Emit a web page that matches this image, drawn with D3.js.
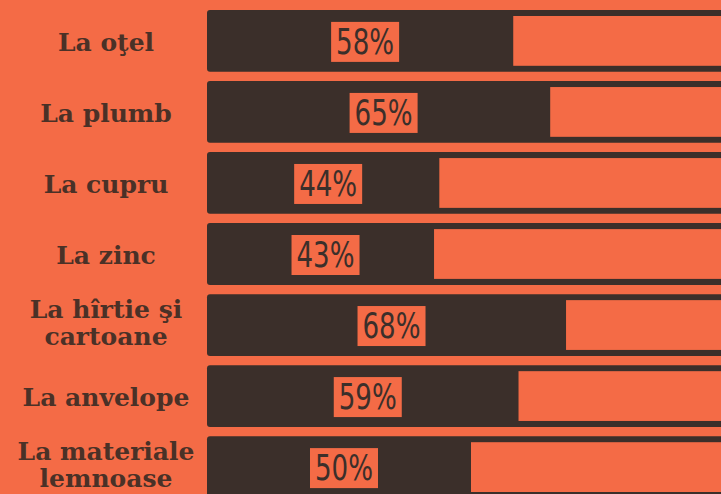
<!DOCTYPE html>
<html>
<head>
<meta charset="utf-8">
<script src="https://cdn.jsdelivr.net/npm/d3@7"></script>
<style>
  html, body { margin: 0; padding: 0; background: #f46b46; }
  svg { display: block; }
</style>
</head>
<body>
<div id="chart"></div>
<script>
// data
const categories = [
    ["La oţel"],
    ["La plumb"],
    ["La cupru"],
    ["La zinc"],
    ["La hîrtie şi", "cartoane"],
    ["La anvelope"],
    ["La materiale", "lemnoase"]
];
const values = [58, 65, 44, 43, 68, 59, 50];
const valueLabels = ["58%", "65%", "44%", "43%", "68%", "59%", "50%"];

const width = 721,
    height = 494;

const bg = "#f46b46",
    dark = "#3b2f2a",
    ink = "#4a3127";

const svg = d3.select("#chart")
    .append("svg")
    .attr("width", width)
    .attr("height", height);

svg.append("rect")
    .attr("width", width)
    .attr("height", height)
    .attr("fill", bg);

// x: percent -> pixels (100% runs past the right edge)
const x = d3.scaleLinear()
    .domain([0, 100])
    .range([207, 735]);

// y: one band per category
const y = d3.scaleBand()
    .domain(d3.range(categories.length))
    .range([10, 498])
    .paddingInner(0.13)
    .paddingOuter(0)
    .align(0);

const border = 6;

const rows = svg.append("g")
    .selectAll("g")
    .data(values.map((v, i) => ({ v: v, i: i, label: valueLabels[i], cat: categories[i] })))
    .join("g")
    .attr("transform", d => `translate(0,${y(d.i)})`);

// dark full bar
rows.append("rect")
    .attr("x", x(0))
    .attr("y", 0)
    .attr("width", x(100) - x(0) + 10)
    .attr("height", y.bandwidth())
    .attr("rx", 3)
    .attr("fill", dark);

// orange remainder inside the frame
rows.append("rect")
    .attr("x", d => x(d.v))
    .attr("y", border)
    .attr("width", d => x(100) - x(d.v) - border)
    .attr("height", y.bandwidth() - border * 2)
    .attr("fill", bg);

// value label boxes
const boxW = 68,
    boxH = 40;

rows.append("rect")
    .attr("x", d => (x(0) + x(d.v)) / 2 + 5 - boxW / 2)
    .attr("y", y.bandwidth() / 2 - boxH / 2 + 1)
    .attr("width", boxW)
    .attr("height", boxH)
    .attr("fill", bg);

rows.append("text")
    .attr("x", d => (x(0) + x(d.v)) / 2 + 5 - 29)
    .attr("y", y.bandwidth() / 2 + 13)
    .attr("textLength", 58)
    .attr("lengthAdjust", "spacingAndGlyphs")
    .style("font-family", "'DejaVu Sans Condensed', sans-serif")
    .style("font-size", "35px")
    .attr("fill", dark)
    .text(d => d.label);

// category labels on the left
rows.append("text")
    .attr("text-anchor", "middle")
    .style("font-family", "'DejaVu Serif', serif")
    .style("font-weight", "bold")
    .style("font-size", "25px")
    .attr("fill", ink)
    .selectAll("tspan")
    .data(d => d.cat.map((t, k) => ({ t: t, k: k, n: d.cat.length })))
    .join("tspan")
    .attr("x", 106)
    .attr("y", d => d.n === 1 ? y.bandwidth() / 2 + 10 : y.bandwidth() / 2 - 7 + d.k * 27)
    .text(d => d.t);
</script>
</body>
</html>
